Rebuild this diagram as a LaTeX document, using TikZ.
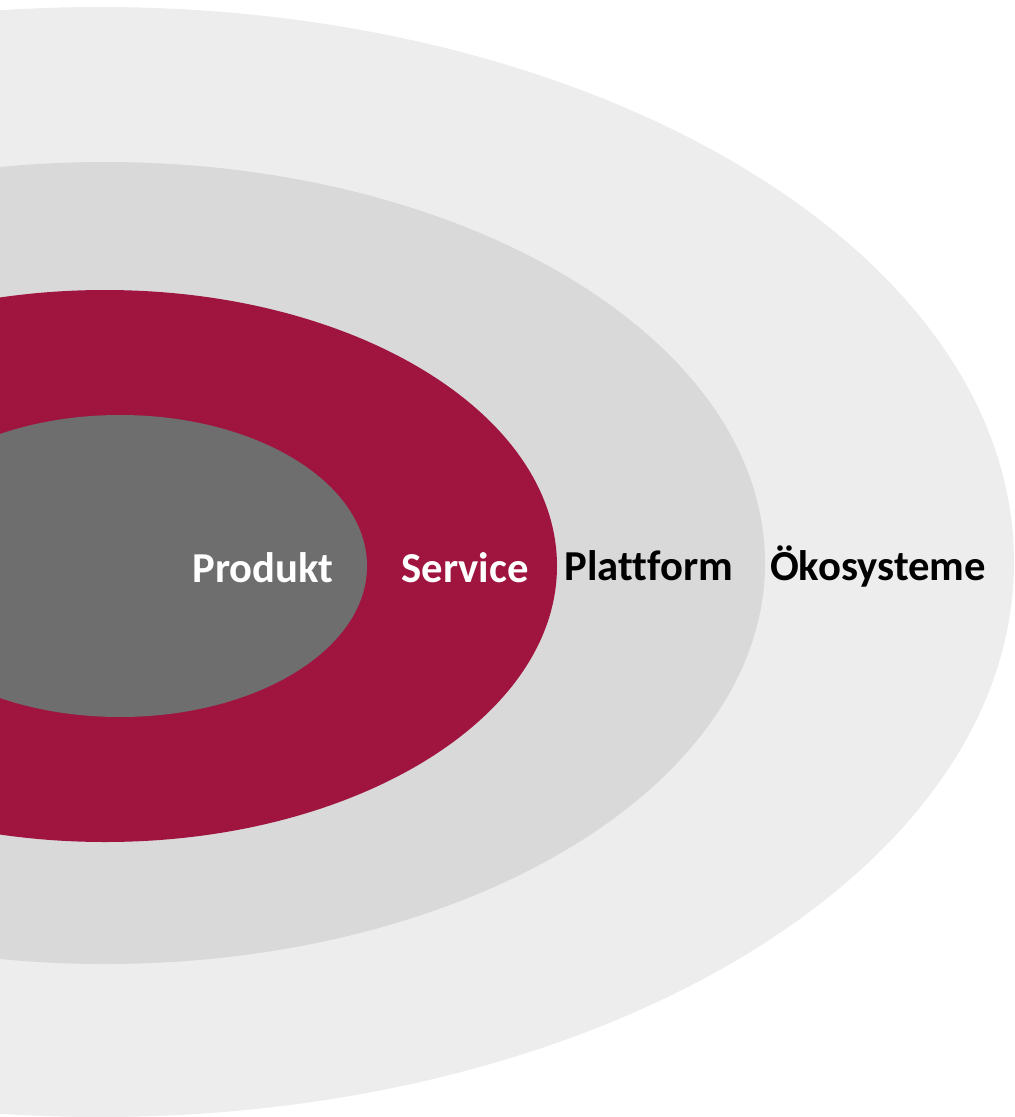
\documentclass[tikz,border=0pt]{standalone}
\usepackage{fontspec}
\setmainfont{Carlito}[Ligatures=NoCommon]
\usepackage{tikz}

\definecolor{eco}{HTML}{EDEDED}
\definecolor{platform}{HTML}{D9D9D9}
\definecolor{service}{HTML}{A01540}
\definecolor{product}{HTML}{6E6E6E}

\begin{document}
\begin{tikzpicture}[x=0.75pt, y=-0.75pt,
		label/.style={anchor=base, font=\bfseries\fontsize{32}{38}\selectfont}]
		\useasboundingbox (0, 0) rectangle (1014, 1117);
		\clip (0, 0) rectangle (1014, 1117);
		% draw rings
		\fill [eco] (100, 562) ellipse [x radius=914, y radius=555];
		\fill [platform] (105, 563) ellipse [x radius=660, y radius=401];
		\fill [service] (105, 566) ellipse [x radius=452, y radius=276];
		\fill [product] (120, 566) ellipse [x radius=247, y radius=151];
		% draw labels
		\node [label, white] (produkt) at (263, 582) {Produkt};
		\node [label, white] (service) at (465, 582) {Service};
		\node [label, black] (plattform) at (649, 580) {Plattform};
		\node [label, black] (oekosysteme) at (878, 580) {Ökosysteme};
\end{tikzpicture}
\end{document}
